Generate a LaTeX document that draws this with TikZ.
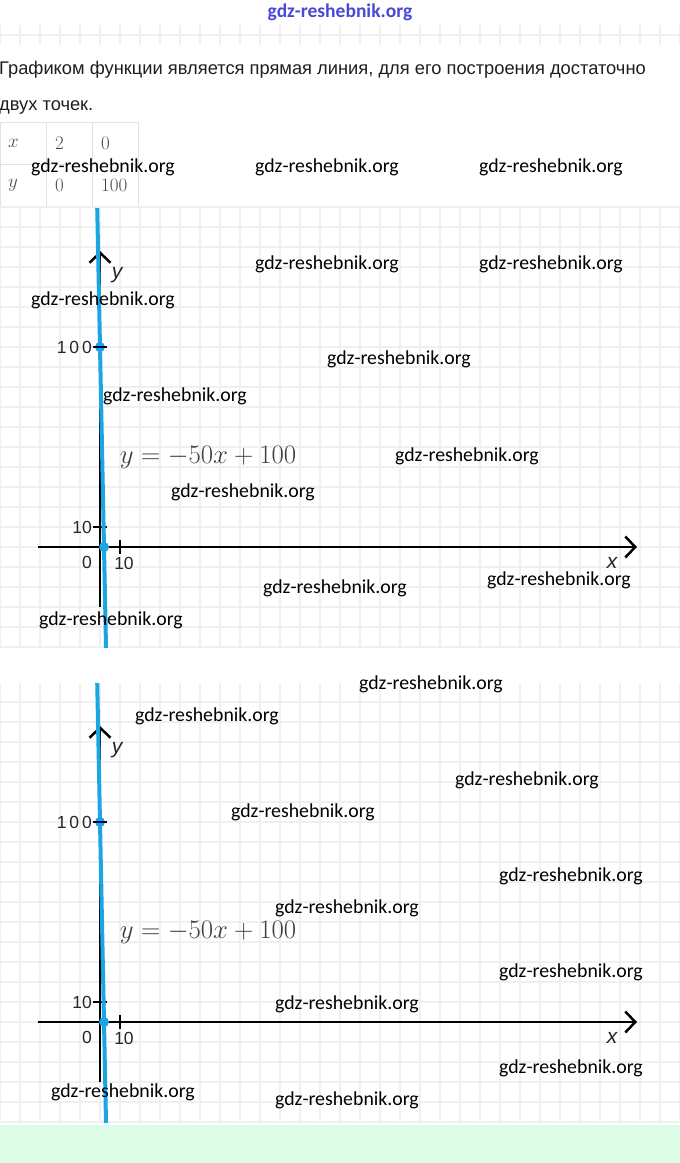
\RequirePackage{fix-cm}
\documentclass[tikz,border=0pt]{standalone}
\usepackage{fontspec}
\setmainfont{Liberation Sans}
\newfontfamily\wmfont{Carlito}
\usetikzlibrary{arrows.meta}
\definecolor{lineblue}{RGB}{27,165,226}
\definecolor{gridgray}{RGB}{240,240,240}
\definecolor{tablegray}{RGB}{226,226,226}
\definecolor{mint}{RGB}{220,252,232}
\definecolor{wmblue}{RGB}{72,72,212}
\definecolor{textgray}{RGB}{30,30,30}

\begin{document}
\begin{tikzpicture}[x=1pt, y=-1pt,
    wm/.style={font=\wmfont\fontsize{19.8}{22}\selectfont, inner sep=0pt},
    cell/.style={font=\fontsize{19}{21}\selectfont, text=black!70, inner sep=0pt},
    lbl/.style={font=\fontsize{17.5}{19}\selectfont, text=black!85, inner sep=0pt},
    axis/.style={line width=2.5pt, -{Straight Barb[length=10pt, width=21pt]}},
    fnline/.style={lineblue, line width=4pt},
    gridline/.style={gridgray, line width=1.4pt}]
    \useasboundingbox (0,0) rectangle (680,1163);

    % top strip
    \node[font=\wmfont\bfseries\fontsize{19.5}{21}\selectfont, text=wmblue] (site) at (340,12) {gdz-reshebnik.org};
    \foreach \c in {0,20,...,680} \draw[gridline] (\c,25) -- (\c,45);
    \draw[gridline] (0,35) -- (680,35);

    % text
    \node[anchor=base west, inner sep=0pt, text=textgray, font=\fontsize{18.3}{20}\selectfont] (line1) at (-1,74)
        {Графиком функции является прямая линия, для его построения достаточно};
    \node[anchor=base west, inner sep=0pt, text=textgray, font=\fontsize{18.3}{20}\selectfont] (line2) at (-1,110)
        {двух точек.};

    % table
    \foreach \r in {122,164,206} \draw[tablegray] (0,\r) -- (138,\r);
    \foreach \c in {0,46,92,138} \draw[tablegray] (\c,122) -- (\c,206);
    \node[cell, anchor=west] (tx) at (8,143) {$x$};
    \node[cell, anchor=west] (t2) at (55,143) {$2$};
    \node[cell, anchor=west] (t0) at (101,143) {$0$};
    \node[cell, anchor=west] (ty) at (8,185) {$y$};
    \node[cell, anchor=west] (t00) at (55,185) {$0$};
    \node[cell, anchor=west] (t100) at (101,185) {$100$};

    % two graphs
    \foreach \g/\oy in {a/547, b/1022} {
        \foreach \c in {0,20,...,680} \draw[gridline] (\c,\oy-340) -- (\c,\oy+100);
        \foreach \k in {-17,...,5} \draw[gridline] (0,\oy+20*\k) -- (680,\oy+20*\k);
        \begin{scope}[shift={(100,\oy)}, x=2pt, y=2pt]
            \coordinate (xs\g) at (-31,0);
            \coordinate (xe\g) at (268.5,0);
            \coordinate (ys\g) at (0,-30);
            \coordinate (ye\g) at (0,148);
            \draw[axis] (xs\g) -- (xe\g);
            \draw[axis] (ys\g) -- (ye\g);
            \draw[line width=2pt] (-3.5,10) -- (3.5,10);
            \draw[line width=2pt] (10,-3.5) -- (10,3.5);
            \draw[fnline, domain=-1.39:3.01] plot (\x,{-50*\x+100});
            \fill[lineblue] (0,100) circle (5pt);
            \fill[lineblue] (2,0) circle (5pt);
            \draw[line width=2pt, black!70!blue] (-3.5,100) -- (3.5,100);
            \node[lbl, anchor=east] (hundred\g) at (-4,100) {1\,0\,0};
            \node[lbl, anchor=east] (ten\g) at (-4,10) {10};
            \node[lbl] (zero\g) at (-6.5,-7.5) {0};
            \node[lbl] (xten\g) at (12,-8) {10};
            \node[lbl, font=\itshape\fontsize{21}{23}\selectfont] (xlab\g) at (256,-8) {x};
            \node[lbl, font=\itshape\fontsize{21}{23}\selectfont] (ylab\g) at (8.5,136) {y};
            \node[text=black!75, font=\fontsize{26.8}{30}\selectfont] (eq\g) at (54,45) {$y=-50x+100$};
        \end{scope}
    }

    % white gap and bottom band
    \fill[white] (0,648) rectangle (680,683);
    \fill[mint] (0,1125) rectangle (680,1163);

    % watermarks
    \foreach \wx/\wy [count=\i] in {103/167, 327/167, 551/167, 327/264, 551/264, 103/300,
        399/359, 175/396, 467/456, 243/492, 559/580, 335/588, 111/620,
        431/684, 207/716, 527/780, 303/812, 571/876, 347/908, 571/972, 347/1004,
        571/1068, 123/1092, 347/1100}
        \node[wm] (wm\i) at (\wx,\wy) {gdz-reshebnik.org};
\end{tikzpicture}
\end{document}
